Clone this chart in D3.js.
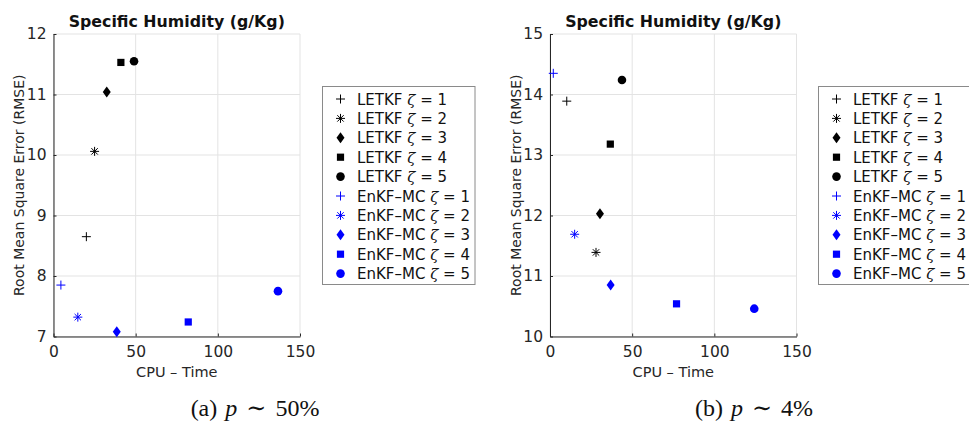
<!DOCTYPE html>
<html><head><meta charset="utf-8">
<script src="https://cdn.jsdelivr.net/npm/d3@7"></script>
<style>
html,body{margin:0;padding:0;background:#fff;}
svg{display:block;}
text{font-family:"DejaVu Sans",Arial,sans-serif;}
</style></head>
<body>
<svg id="c" width="969" height="425"></svg>
<script>
// ---- data ----
const zetas = [1, 2, 3, 4, 5];
const markerShapes = ["plus", "star", "diamond", "square", "circle"];
const methods = ["LETKF", "EnKF\u2013MC"];
const methodColors = ["#000000", "#0000ff"];
const xTicks = [0, 50, 100, 150];
const yTicksA = [7, 8, 9, 10, 11, 12];
const yTicksB = [10, 11, 12, 13, 14, 15];

const panelA_letkf_cpu  = [20, 25, 32.4, 41, 49];
const panelA_letkf_rmse = [8.65, 10.06, 11.04, 11.53, 11.55];
const panelA_enkf_cpu   = [4.5, 14.8, 38.5, 82, 136.6];
const panelA_enkf_rmse  = [7.85, 7.32, 7.08, 7.24, 7.75];

const panelB_letkf_cpu  = [10.2, 28, 30.4, 36.7, 43.8];
const panelB_letkf_rmse = [13.89, 11.39, 12.03, 13.18, 14.24];
const panelB_enkf_cpu   = [2, 15, 36.9, 77, 124.3];
const panelB_enkf_rmse  = [14.35, 11.69, 10.85, 10.54, 10.46];

const titleText = "Specific Humidity (g/Kg)";
const xLabel = "CPU \u2013 Time";
const yLabel = "Root Mean Square Error (RMSE)";

// ---- drawing ----
const svg = d3.select("#c");
const SANS = "'DejaVu Sans', Arial, sans-serif";

function drawMarker(g, shape, x, y, color) {
  if (shape === "plus") {
    const s = 4.5;
    g.append("path").attr("d", `M${x-s},${y}H${x+s}M${x},${y-s}V${y+s}`)
      .attr("stroke", color).attr("stroke-width", 1).attr("fill", "none");
  } else if (shape === "star") {
    const s = 4.5, d = 3.2;
    g.append("path").attr("d", `M${x-s},${y}H${x+s}M${x},${y-s}V${y+s}M${x-d},${y-d}L${x+d},${y+d}M${x-d},${y+d}L${x+d},${y-d}`)
      .attr("stroke", color).attr("stroke-width", 1).attr("fill", "none");
  } else if (shape === "diamond") {
    g.append("path").attr("d", `M${x},${y-5.5}L${x+4},${y}L${x},${y+5.5}L${x-4},${y}Z`)
      .attr("fill", color);
  } else if (shape === "square") {
    g.append("rect").attr("x", x-3.6).attr("y", y-3.6).attr("width", 7.2).attr("height", 7.2)
      .attr("fill", color);
  } else {
    g.append("circle").attr("cx", x).attr("cy", y).attr("r", 4.3).attr("fill", color);
  }
}

function drawPanel(cfg) {
  const g = svg.append("g");
  const x = d3.scaleLinear().domain([0, 150]).range([cfg.x0, cfg.x1]);
  const y = d3.scaleLinear().domain([cfg.yTicks[0], cfg.yTicks[cfg.yTicks.length-1]]).range([cfg.yb, cfg.yt]);

  // grid
  g.append("g").selectAll("line").data(xTicks).join("line")
    .attr("x1", d => x(d)).attr("x2", d => x(d)).attr("y1", cfg.yt).attr("y2", cfg.yb)
    .attr("stroke", "#e3e3e3").attr("stroke-width", 1);
  g.append("g").selectAll("line").data(cfg.yTicks).join("line")
    .attr("y1", d => y(d)).attr("y2", d => y(d)).attr("x1", cfg.x0).attr("x2", cfg.x1)
    .attr("stroke", "#e3e3e3").attr("stroke-width", 1);

  // axes
  const xa = g.append("g").attr("transform", `translate(0,${cfg.yb})`)
    .call(d3.axisBottom(x).tickValues(xTicks).tickFormat(d3.format("d")).tickSizeInner(-3).tickSizeOuter(0).tickPadding(9));
  const ya = g.append("g").attr("transform", `translate(${cfg.x0},0)`)
    .call(d3.axisLeft(y).tickValues(cfg.yTicks).tickFormat(d3.format("d")).tickSizeInner(-3).tickSizeOuter(0).tickPadding(7));
  [xa, ya].forEach(a => {
    a.select(".domain").attr("stroke", "#262626");
    a.selectAll(".tick line").attr("stroke", "#262626");
    a.selectAll(".tick text").attr("fill", "#262626").style("font-size", "15.5px")
      .style("font-family", SANS);
  });

  // labels
  g.append("text").attr("x", (cfg.x0+cfg.x1)/2).attr("y", 27).attr("text-anchor", "middle")
    .style("font-size", "15.8px").style("font-weight", "bold").attr("fill", "#111").text(titleText);
  g.append("text").attr("x", (cfg.x0+cfg.x1)/2).attr("y", 377).attr("text-anchor", "middle")
    .style("font-size", "14.5px").attr("fill", "#262626").text(xLabel);
  g.append("text").attr("transform", `translate(${cfg.x0-29.5},${(cfg.yt+cfg.yb)/2}) rotate(-90)`)
    .attr("text-anchor", "middle").style("font-size", "14px").attr("fill", "#262626").text(yLabel);

  // points
  const series = [[cfg.lc, cfg.lr], [cfg.ec, cfg.er]];
  series.forEach((s, mi) => {
    s[0].forEach((cpu, i) => drawMarker(g, markerShapes[i], x(cpu), y(s[1][i]), methodColors[mi]));
  });

  // legend
  const lg = g.append("g");
  lg.append("rect").attr("x", cfg.lx + 0.5).attr("y", 86.5).attr("width", 152.5).attr("height", 198)
    .attr("fill", "#fff").attr("stroke", "#8a8a8a").attr("stroke-width", 1);
  methods.forEach((m, mi) => {
    zetas.forEach((z, i) => {
      const k = mi*5 + i;
      const ry = 99 + k*19.4;
      drawMarker(lg, markerShapes[i], cfg.lx + 18.5, ry, methodColors[mi]);
      const t = lg.append("text").attr("x", cfg.lx + 35).attr("y", ry + 5.5).style("font-size", "15px").attr("fill", "#111");
      t.append("tspan").text(m + " ");
      t.append("tspan").style("font-style", "italic").style("font-family", "'DejaVu Serif', serif").text("\u03b6");
      t.append("tspan").text(" = " + z);
    });
  });

  // caption
  const cap = g.append("text").attr("x", cfg.capX).attr("y", 416).attr("text-anchor", "middle")
    .style("font-family", "'Liberation Serif','DejaVu Serif',serif").style("font-size", "24px").attr("fill", "#111");
  cap.append("tspan").text(cfg.capLetter);
  cap.append("tspan").attr("dx", 8).style("font-style", "italic").text("p");
  cap.append("tspan").attr("dx", 9).text("\u223c");
  cap.append("tspan").attr("dx", 9).text(cfg.capPct);
}

drawPanel({x0: 53.5, x1: 300, yt: 34, yb: 336.5, yTicks: yTicksA,
  lc: panelA_letkf_cpu, lr: panelA_letkf_rmse, ec: panelA_enkf_cpu, er: panelA_enkf_rmse,
  lx: 322, capX: 255, capLetter: "(a)", capPct: "50%"});
drawPanel({x0: 550, x1: 796.5, yt: 34, yb: 336.5, yTicks: yTicksB,
  lc: panelB_letkf_cpu, lr: panelB_letkf_rmse, ec: panelB_enkf_cpu, er: panelB_enkf_rmse,
  lx: 818, capX: 754, capLetter: "(b)", capPct: "4%"});
</script>
</body></html>
